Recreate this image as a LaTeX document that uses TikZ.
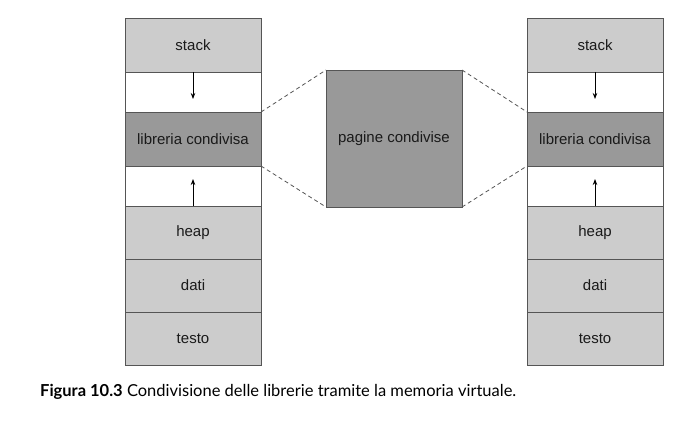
\documentclass[tikz,border=0pt]{standalone}
\usepackage{fontspec}
\setmainfont{Liberation Sans}
\newfontfamily\capfont{Lato}
\usetikzlibrary{arrows.meta}
\definecolor{lightg}{HTML}{CCCCCC}
\definecolor{darkg}{HTML}{999999}
\definecolor{edgec}{HTML}{555555}
\definecolor{txtc}{HTML}{1A1A1A}
\begin{document}
\begin{tikzpicture}[x=1pt,y=-1pt,
  seg/.style={draw=edgec, line width=0.9pt, minimum width=136pt, inner sep=0pt, outer sep=0pt,
    font=\fontsize{15}{17}\selectfont, text=txtc},
  light/.style={seg, fill=lightg, minimum height=53pt},
  dark/.style={seg, fill=darkg, minimum height=54pt},
  blank/.style={seg, fill=white, minimum height=40pt},
  growarrow/.style={draw=black, line width=0.8pt, -{Stealth[length=6pt,width=4.5pt]}},
  shareline/.style={draw=edgec, line width=0.8pt, dash pattern=on 4pt off 3pt}]
\useasboundingbox (0,0) rectangle (687,424);
% left column
\node[light, minimum height=54pt] (ls) at (193,45) {stack};
\node[blank] (lg1) at (193,92) {};
\node[dark] (ll) at (193,139) {libreria condivisa};
\node[blank] (lg2) at (193,186) {};
\node[light] (lh) at (193,232.5) {heap};
\node[light] (ld) at (193,285.5) {dati};
\node[light] (lt) at (193,338.5) {testo};
% right column
\node[light, minimum height=54pt] (rs) at (595,45) {stack};
\node[blank] (rg1) at (595,92) {};
\node[dark] (rl) at (595,139) {libreria condivisa};
\node[blank] (rg2) at (595,186) {};
\node[light] (rh) at (595,232.5) {heap};
\node[light] (rd) at (595,285.5) {dati};
\node[light] (rt) at (595,338.5) {testo};
% middle
\node[seg, fill=darkg, minimum width=136pt, minimum height=137pt] (mid) at (394,138.5) {pagine condivise};
% arrows
\coordinate (la1) at (193,99);
\coordinate (la2) at (193,179);
\coordinate (ra1) at (595,99);
\coordinate (ra2) at (595,179);
\draw[growarrow] (ls.south) -- (la1);
\draw[growarrow] (lh.north) -- (la2);
\draw[growarrow] (rs.south) -- (ra1);
\draw[growarrow] (rh.north) -- (ra2);
% dashed
\draw[shareline] (ll.north east) -- (mid.north west);
\draw[shareline] (ll.south east) -- (mid.south west);
\draw[shareline] (mid.north east) -- (rl.north west);
\draw[shareline] (mid.south east) -- (rl.south west);
% caption
\node[anchor=west, inner sep=0pt, font=\capfont\fontsize{16.5}{19}\selectfont] (cap) at (40,392)
  {\textbf{Figura 10.3} Condivisione delle librerie tramite la memoria virtuale.};
\end{tikzpicture}
\end{document}
